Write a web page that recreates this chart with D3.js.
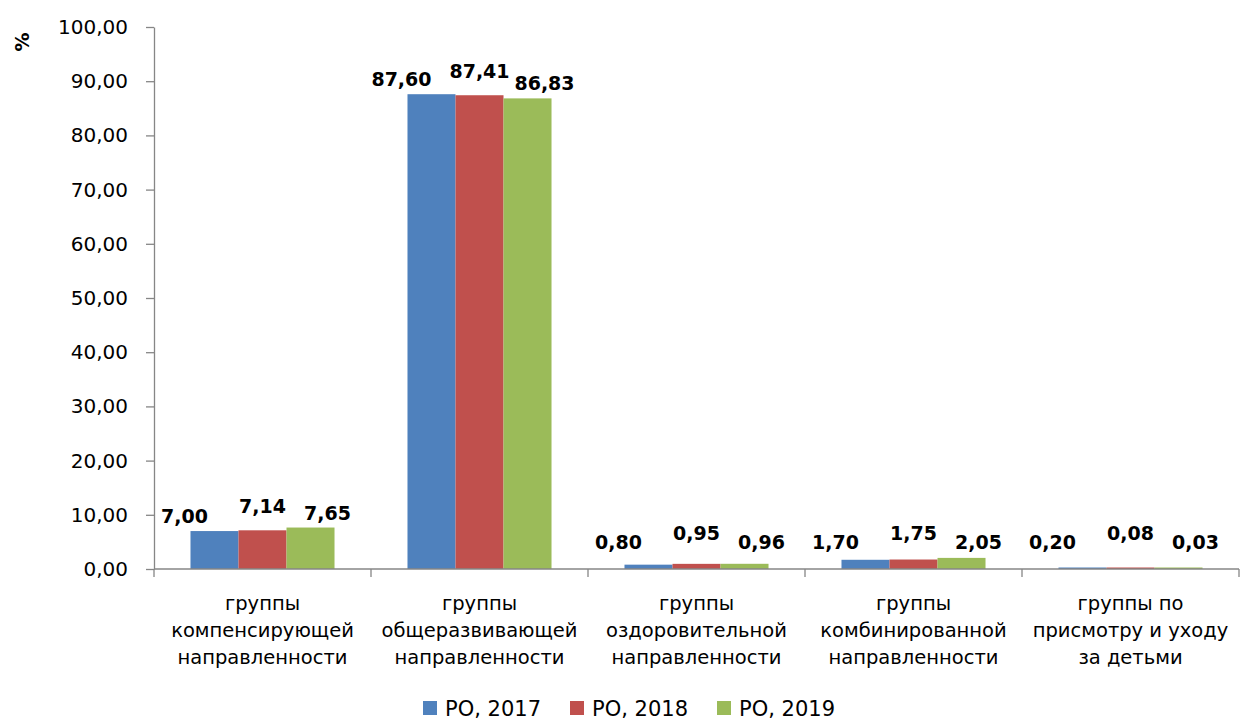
<!DOCTYPE html>
<html><head><meta charset="utf-8">
<script src="https://cdn.jsdelivr.net/npm/d3@7"></script>
<style>body{margin:0;background:#fff;} svg{display:block;}</style>
</head><body>
<script>
const categories = [
  ["группы","компенсирующей","направленности"],
  ["группы","общеразвивающей","направленности"],
  ["группы","оздоровительной","направленности"],
  ["группы","комбинированной","направленности"],
  ["группы по","присмотру и уходу","за детьми"]
];
const seriesNames = ["РО, 2017","РО, 2018","РО, 2019"];
const values2017 = [7.00, 87.60, 0.80, 1.70, 0.20];
const values2018 = [7.14, 87.41, 0.95, 1.75, 0.08];
const values2019 = [7.65, 86.83, 0.96, 2.05, 0.03];
const yTicks = [0,10,20,30,40,50,60,70,80,90,100];
const colors = ["#4F81BD","#C0504D","#9BBB59"];
const series = [values2017, values2018, values2019];

const W = 1241, H = 727;
const svg = d3.select("body").append("svg").attr("width", W).attr("height", H);
const font = "'DejaVu Sans', Verdana, sans-serif";
const plotLeft = 154, plotRight = 1239, plotTop = 27, plotBottom = 569;

const x0 = d3.scaleBand().domain(d3.range(categories.length)).range([plotLeft, plotRight]).paddingInner(0).paddingOuter(0);
const x1 = d3.scaleBand().domain(d3.range(series.length)).range([0, x0.bandwidth()]).paddingOuter(0.76).paddingInner(0);
const y = d3.scaleLinear().domain([0,100]).range([plotBottom, plotTop]);
const fmt = v => d3.format(".2f")(v).replace(".", ",");

// y axis
const yAxis = svg.append("g").attr("transform", `translate(${plotLeft},0)`)
  .call(d3.axisLeft(y).tickValues(yTicks).tickSize(8).tickPadding(18).tickFormat(fmt).tickSizeOuter(0));
yAxis.selectAll("path,line").attr("stroke","#868686").attr("stroke-width",1.3);
yAxis.selectAll("text").attr("font-family",font).attr("font-size",20).attr("fill","#000");

// bars
categories.forEach((c, ci) => {
  const g = svg.append("g").attr("transform", `translate(${x0(ci)},0)`);
  series.forEach((s, si) => {
    g.append("rect").attr("x", x1(si)).attr("width", x1.bandwidth())
      .attr("y", Math.min(y(s[ci]), y(0) - 1.5)).attr("height", Math.max(y(0) - y(s[ci]), 1.5))
      .attr("fill", colors[si]);
  });
});

// x axis
const xAxis = svg.append("g").attr("transform", `translate(0,${plotBottom})`);
xAxis.append("line").attr("x1", plotLeft).attr("x2", plotRight).attr("stroke","#868686").attr("stroke-width",1.3);
d3.range(categories.length + 1).forEach(i => {
  const xx = plotLeft + i * x0.bandwidth();
  xAxis.append("line").attr("x1", xx).attr("x2", xx).attr("y1", 0).attr("y2", 8).attr("stroke","#868686").attr("stroke-width",1.3);
});

// category labels
categories.forEach((lines, ci) => {
  const cx = x0(ci) + x0.bandwidth()/2;
  const t = svg.append("text").attr("text-anchor","middle").attr("font-family",font).attr("font-size",19.5).attr("fill","#000");
  lines.forEach((ln, li) => {
    t.append("tspan").attr("x", cx).attr("y", 610 + li*27).text(ln);
  });
});

// value labels
const labelDx = [-30, 0, 17];
const labelStagger = [0, -9, 0];
categories.forEach((c, ci) => {
  series.forEach((s, si) => {
    const bx = x0(ci) + x1(si) + x1.bandwidth()/2;
    const cy = Math.min(y(s[ci]) - 15, y(0) - 27) + labelStagger[si];
    svg.append("text").attr("x", bx + labelDx[si]).attr("y", cy + 7)
      .attr("text-anchor","middle").attr("font-family",font).attr("font-weight","bold")
      .attr("font-size",19).attr("fill","#000").text(fmt(s[ci]));
  });
});

// % label
svg.append("text").attr("transform","translate(29,42) rotate(-90)").attr("text-anchor","middle")
  .attr("font-family",font).attr("font-weight","bold").attr("font-size",19).text("%");

// legend
const legendX = [423, 570, 717];
seriesNames.forEach((n, i) => {
  svg.append("rect").attr("x", legendX[i]).attr("y", 701).attr("width", 14).attr("height", 14).attr("fill", colors[i]);
  svg.append("text").attr("x", legendX[i] + 22).attr("y", 716).attr("font-family",font).attr("font-size",21).text(n);
});
</script>
</body></html>
